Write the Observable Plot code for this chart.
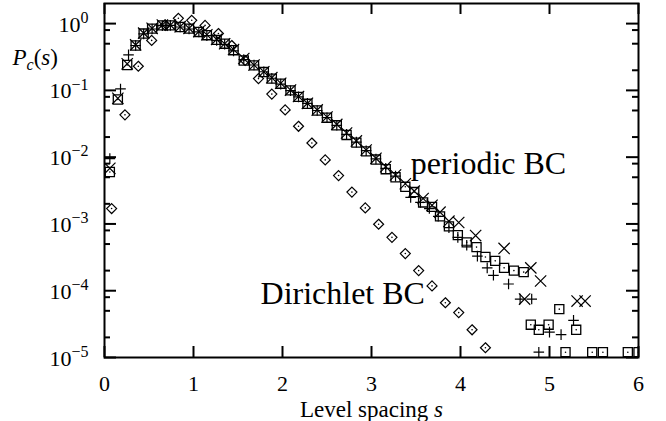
<!DOCTYPE html>
<html><head><meta charset="utf-8">
<script src="https://cdn.jsdelivr.net/npm/d3@7"></script>
<script src="https://cdn.jsdelivr.net/npm/@observablehq/plot@0.6"></script>
<style>body{margin:0;background:#fff}</style>
</head><body><div id="chart"></div>
<script>
// ---- data ----
// periodic BC, squares
const squareS = [0.06,0.15,0.255,0.35,0.44,0.535,0.65,0.74,0.85,0.95,1.06,1.15,1.26,1.35,1.45,1.565,1.68,1.79,1.88,1.98,2.09,2.18,2.28,2.39,2.5,2.61,2.72,2.83,2.94,3.05,3.16,3.27,3.38,3.48,3.58,3.68,3.77,3.87,3.97,4.07,4.18,4.28,4.39,4.49,4.60,4.71,4.79,4.88,4.99,5.11,5.18,5.30,5.48,5.60,5.88,6.00];
const squareP = [0.0060,0.073,0.24,0.47,0.71,0.84,0.94,0.94,0.89,0.84,0.75,0.67,0.57,0.50,0.40,0.28,0.237,0.188,0.15,0.126,0.10,0.08,0.063,0.05,0.039,0.030,0.0215,0.0165,0.0122,0.0092,0.0066,0.0050,0.0036,0.0030,0.0021,0.0018,0.0013,0.00092,0.00068,0.00053,0.00045,0.00032,0.00028,0.00022,0.00020,0.00019,0.000031,0.000026,0.000031,0.000053,0.000012,0.000026,0.000012,0.000012,0.000012,0.000012];
// periodic BC, crosses
const crossS = [0.06,0.15,0.255,0.35,0.44,0.535,0.65,0.74,0.85,0.95,1.06,1.15,1.26,1.35,1.45,1.565,1.68,1.79,1.88,1.98,2.09,2.18,2.28,2.39,2.5,2.61,2.72,2.83,2.94,3.05,3.16,3.27,3.38,3.48,3.58,3.68,3.77,3.87,3.98,4.17,4.49,4.72,4.79,4.90,5.31,5.40];
const crossP = [0.0068,0.076,0.25,0.48,0.72,0.85,0.95,0.95,0.90,0.85,0.76,0.68,0.58,0.50,0.41,0.30,0.24,0.19,0.155,0.128,0.101,0.081,0.064,0.051,0.040,0.031,0.023,0.0175,0.0128,0.0096,0.0072,0.0054,0.0040,0.0031,0.0024,0.0019,0.0015,0.0011,0.00105,0.00067,0.00043,0.000075,0.00022,0.00014,0.00007,0.00007];
// periodic BC, plus signs
const plusS = [0.06,0.18,0.27,0.35,0.44,0.535,0.65,0.74,0.85,0.95,1.06,1.15,1.26,1.35,1.45,1.565,1.68,1.79,1.88,1.98,2.09,2.18,2.28,2.39,2.5,2.61,2.72,2.83,2.94,3.05,3.16,3.27,3.44,3.55,3.65,3.75,3.87,3.97,4.07,4.19,4.30,4.37,4.54,4.67,4.80,4.88,5.00,5.13,5.27];
const plusP = [0.0095,0.105,0.34,0.47,0.70,0.83,0.93,0.94,0.89,0.83,0.75,0.66,0.56,0.49,0.39,0.29,0.24,0.19,0.152,0.124,0.099,0.080,0.064,0.050,0.039,0.030,0.022,0.0168,0.0125,0.0094,0.0068,0.0052,0.0025,0.0021,0.0017,0.0013,0.00088,0.00063,0.00048,0.00033,0.00022,0.00017,0.000126,0.000075,0.000075,0.000012,0.000024,0.000022,0.000036];
// Dirichlet BC, diamonds
const diamondS = [0.08,0.23,0.38,0.53,0.68,0.83,0.98,1.13,1.28,1.43,1.58,1.73,1.88,2.03,2.18,2.33,2.48,2.63,2.78,2.93,3.08,3.23,3.38,3.53,3.68,3.83,3.98,4.13,4.28];
const diamondP = [0.0017,0.043,0.23,0.56,0.95,1.2,1.12,0.94,0.71,0.47,0.28,0.15,0.088,0.051,0.029,0.0163,0.0091,0.0053,0.0030,0.00174,0.00099,0.00063,0.00036,0.00020,0.000118,0.000066,0.000047,0.000026,0.000014];

const xTicks = [0,1,2,3,4,5,6];
const yMajor = [1,1e-1,1e-2,1e-3,1e-4,1e-5];
const yExponents = ["0","\u22121","\u22122","\u22123","\u22124","\u22125"];
const yMinor = [0.8,0.5,0.2,0.08,0.05,0.02,0.008,0.005,0.002,8e-4,5e-4,2e-4,8e-5,5e-5,2e-5];

const toRows = (S, P) => S.map((s, i) => ({s, p: P[i]}));
const squares = toRows(squareS, squareP);
const crosses = toRows(crossS, crossP);
const pluses = toRows(plusS, plusP);
const diamonds = toRows(diamondS, diamondP);

// ---- layout ----
const W = 666, H = 421, mL = 104, mR = 28, mT = 3, mB = 64;
const pw = W - mL - mR, ph = H - mT - mB;
const serif = "Liberation Serif, Times New Roman, serif";

const svg = Plot.plot({
  width: W, height: H,
  marginLeft: mL, marginRight: mR, marginTop: mT, marginBottom: mB,
  style: {fontFamily: serif, background: "white", color: "black"},
  x: {domain: [0, 6], axis: null},
  y: {type: "log", domain: [1e-5, 2], axis: null},
  marks: [
    // data
    Plot.dot(diamonds, {x: "s", y: "p", symbol: "diamond2", r: 4.5, stroke: "black", strokeWidth: 1.2, fill: "none", clip: true}),
    Plot.dot(diamonds, {x: "s", y: "p", r: 0.8, fill: "black", clip: true}),
    Plot.dot(squares, {x: "s", y: "p", symbol: "square2", r: 5.8, stroke: "black", strokeWidth: 1.3, fill: "none", clip: true}),
    Plot.dot(squares, {x: "s", y: "p", r: 0.8, fill: "black", clip: true}),
    Plot.dot(crosses, {x: "s", y: "p", symbol: "times", r: 5.2, stroke: "black", strokeWidth: 1.2, clip: true}),
    Plot.dot(pluses, {x: "s", y: "p", symbol: "plus", r: 3.5, stroke: "black", strokeWidth: 1.2, clip: true}),
    // inward ticks
    Plot.tickX(xTicks, {x: d => d, insetTop: ph - 11, strokeWidth: 2}),
    Plot.tickX(xTicks, {x: d => d, insetBottom: ph - 11, strokeWidth: 2}),
    Plot.tickY(yMajor, {y: d => d, insetRight: pw - 12, strokeWidth: 2}),
    Plot.tickY(yMajor, {y: d => d, insetLeft: pw - 12, strokeWidth: 2}),
    Plot.tickY(yMinor, {y: d => d, insetRight: pw - 6, strokeWidth: 2}),
    Plot.tickY(yMinor, {y: d => d, insetLeft: pw - 6, strokeWidth: 2}),
    Plot.frame({stroke: "black", strokeWidth: 2}),
    // tick labels
    Plot.text(xTicks, {x: d => d, frameAnchor: "bottom", dy: 26, text: d => String(d), fontSize: 22, lineAnchor: "middle", fill: "black"}),
    Plot.text(yMajor, {y: d => d, frameAnchor: "left", dx: -16, dy: 1, text: () => "10", textAnchor: "end", fontSize: 22, lineAnchor: "middle", fill: "black", ariaDescription: "ylab"}),
    // axis titles
    Plot.text(["Level spacing"], {frameAnchor: "bottom", dy: 52, text: d => d, fontSize: 23, lineAnchor: "middle", fill: "black", ariaDescription: "xtitle"}),
    Plot.text(["P"], {frameAnchor: "top-left", dx: 12 - mL, dy: 54, text: d => d, fontSize: 23, textAnchor: "start", lineAnchor: "middle", fill: "black", fontStyle: "italic", ariaDescription: "ytitle"}),
    // annotations
    Plot.text(["periodic BC"], {x: 3.44, y: 0.0081, text: d => d, fontSize: 32, textAnchor: "start", lineAnchor: "middle", fill: "black"}),
    Plot.text(["Dirichlet BC"], {x: 1.753, y: 9.1e-5, text: d => d, fontSize: 32, textAnchor: "start", lineAnchor: "middle", fill: "black"})
  ]
});

const s = d3.select(svg);
s.selectAll('g[aria-description="ylab"] text').each(function(d, i) {
  d3.select(this).append("tspan").attr("font-size", 16).attr("dy", "-0.55em").text(yExponents[i]);
});
s.selectAll('g[aria-description="xtitle"] text').each(function() {
  d3.select(this).append("tspan").attr("font-style", "italic").text("\u00a0s");
});
s.selectAll('g[aria-description="ytitle"] text').each(function() {
  const t = d3.select(this);
  t.append("tspan").attr("font-size", 16).attr("dy", 5).text("c");
  t.append("tspan").attr("font-style", "normal").attr("dy", -5).text("(");
  t.append("tspan").text("s");
  t.append("tspan").attr("font-style", "normal").text(")");
});

document.getElementById("chart").appendChild(svg);
</script>
</body></html>
